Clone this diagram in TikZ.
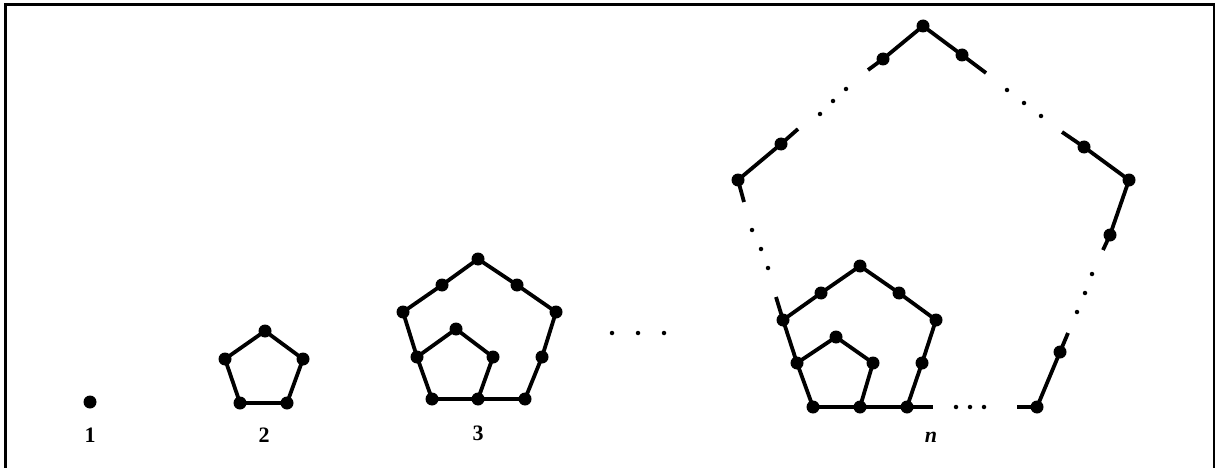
\documentclass[tikz,border=0pt]{standalone}
\usepackage{fontspec}
\setmainfont{Liberation Serif}
\begin{document}
\begin{tikzpicture}[x=1pt,y=-1pt,
  dot/.style={circle,fill=black,inner sep=0pt,minimum size=13pt},
  sdot/.style={circle,fill=black,inner sep=0pt,minimum size=4.5pt},
  edge/.style={line width=3.8pt},
  lab/.style={font=\fontsize{22}{22}\selectfont\bfseries},
  frame/.style={line width=3pt}]
\useasboundingbox (0,0) rectangle (1215,468);
\draw[frame] (5,468) -- (5,5) -- (1214,5) -- (1214,468);

% figure 1
\node[dot] (a1) at (90,402) {};
\node[lab] (l1) at (90,435) {1};

% figure 2
\node[dot] (b1) at (265,331) {};
\node[dot] (b2) at (303,359) {};
\node[dot] (b3) at (287,403) {};
\node[dot] (b4) at (240,403) {};
\node[dot] (b5) at (225,359) {};
\draw[edge] (b1.center) -- (b2.center) -- (b3.center) -- (b4.center) -- (b5.center) -- cycle;
\node[lab] (l2) at (264,435) {2};

% figure 3
\node[dot] (cBL) at (432,399) {};
\node[dot] (cBM) at (478,399) {};
\node[dot] (cBR) at (525,399) {};
\node[dot] (cR2) at (542,357) {};
\node[dot] (cR)  at (556,312) {};
\node[dot] (cTR) at (517,285) {};
\node[dot] (cT)  at (478,259) {};
\node[dot] (cTL) at (442,285) {};
\node[dot] (cL)  at (403,312) {};
\node[dot] (cL2) at (417,357) {};
\node[dot] (ciT) at (456,329) {};
\node[dot] (ciR) at (493,357) {};
\draw[edge] (cBL.center) -- (cBM.center) -- (cBR.center) -- (cR2.center) -- (cR.center) -- (cTR.center) -- (cT.center) -- (cTL.center) -- (cL.center) -- (cL2.center) -- cycle;
\draw[edge] (cL2.center) -- (ciT.center) -- (ciR.center) -- (cBM.center);
\node[lab] (l3) at (478,433) {3};

\node[sdot] (e1) at (612,333) {};
\node[sdot] (e2) at (638,333) {};
\node[sdot] (e3) at (664,333) {};

% figure n
\node[dot] (dBL) at (813,407) {};
\node[dot] (dB1) at (860,407) {};
\node[dot] (diR) at (873,363) {};
\node[dot] (diT) at (836,337) {};
\node[dot] (diL) at (797,363) {};
\node[dot] (dB2) at (907,407) {};
\node[dot] (d2R2) at (922,363) {};
\node[dot] (d2R) at (936,320) {};
\node[dot] (d2TR) at (899,293) {};
\node[dot] (d2T) at (860,266) {};
\node[dot] (d2TL) at (821,293) {};
\node[dot] (d2L) at (783,320) {};
\coordinate (bEnd) at (933,407);
\coordinate (lStub) at (776,297);
\draw[edge] (diL.center) -- (diT.center) -- (diR.center) -- (dB1.center);
\draw[edge] (dBL.center) -- (dB1.center) -- (dB2.center) -- (bEnd);
\draw[edge] (dB2.center) -- (d2R2.center) -- (d2R.center) -- (d2TR.center) -- (d2T.center) -- (d2TL.center) -- (d2L.center) -- (diL.center) -- (dBL.center);
\draw[edge] (d2L.center) -- (lStub);

\node[sdot] (f1) at (956,407) {};
\node[sdot] (f2) at (970,407) {};
\node[sdot] (f3) at (984,407) {};

% big pentagon
\coordinate (gB) at (1017,407);
\node[dot] (DBR) at (1037,407) {};
\node[dot] (DR2) at (1060,352) {};
\coordinate (gR1) at (1068,333);
\draw[edge] (gB) -- (DBR.center) -- (DR2.center) -- (gR1);
\node[sdot] (h1) at (1077,312) {};
\node[sdot] (h2) at (1085,293) {};
\node[sdot] (h3) at (1092,274) {};

\coordinate (gR2) at (1103,250);
\node[dot] (DR3) at (1110,235) {};
\node[dot] (DR) at (1129,180) {};
\node[dot] (DTR) at (1084,147) {};
\coordinate (gTR) at (1062,132);
\draw[edge] (gR2) -- (DR3.center) -- (DR.center) -- (DTR.center) -- (gTR);
\node[sdot] (i1) at (1041,116) {};
\node[sdot] (i2) at (1024,103) {};
\node[sdot] (i3) at (1007,90) {};

\coordinate (gT1) at (986,73);
\node[dot] (DTR2) at (962,55) {};
\node[dot] (DT) at (923,26) {};
\node[dot] (DTL2) at (883,59) {};
\coordinate (gT2) at (868,70);
\draw[edge] (gT1) -- (DTR2.center) -- (DT.center) -- (DTL2.center) -- (gT2);
\node[sdot] (j1) at (846,89) {};
\node[sdot] (j2) at (833,101) {};
\node[sdot] (j3) at (820,114) {};

\coordinate (gL1) at (798,129);
\node[dot] (DTL) at (781,144) {};
\node[dot] (DL) at (738,180) {};
\coordinate (gL2) at (744,202);
\draw[edge] (gL1) -- (DTL.center) -- (DL.center) -- (gL2);
\node[sdot] (k1) at (752,230) {};
\node[sdot] (k2) at (761,249) {};
\node[sdot] (k3) at (768,268) {};

\node[lab,font=\fontsize{22}{22}\selectfont\bfseries\itshape] (ln) at (931,437) {n};
\end{tikzpicture}
\end{document}
